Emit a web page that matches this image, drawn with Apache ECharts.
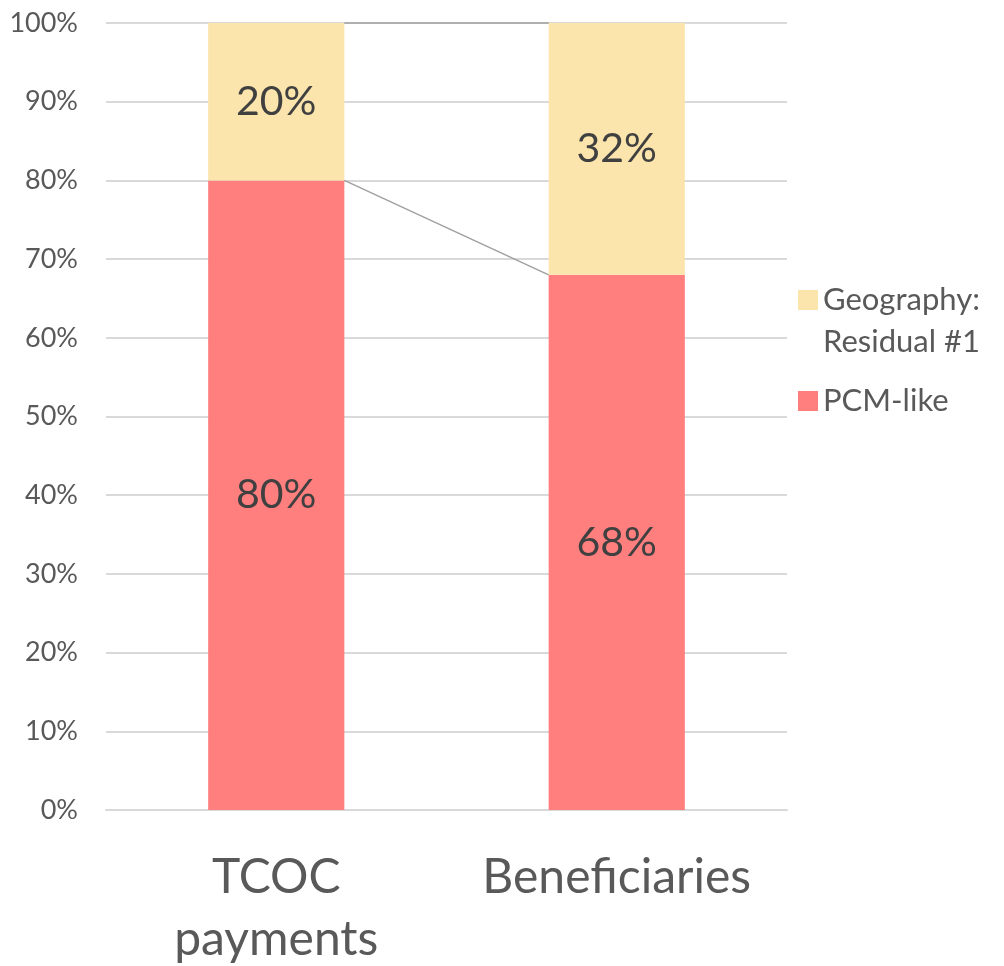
<!DOCTYPE html>
<html lang="en">
<head>
  <meta charset="UTF-8">
  <title>TCOC vs Beneficiaries</title>
  <script src="https://cdn.jsdelivr.net/npm/echarts@6/dist/echarts.min.js"></script>
  <style>
    html, body { margin: 0; padding: 0; background: #fff; }
    #main { width: 1004px; height: 966px; }
  </style>
</head>
<body>
  <div id="main"></div>
  <script>
    // data
    var categories = ['TCOC\npayments', 'Beneficiaries'];
    var pcmLike = [80, 68];
    var geography = [20, 32];
    var seriesNames = ['PCM-like', 'Geography:\nResidual #1'];

    // connector lines between the stacked bars (at each stack boundary)
    var connectors = [];
    for (var i = 0; i < categories.length - 1; i++) {
      connectors.push([i, pcmLike[i], pcmLike[i + 1]]);
      connectors.push([i, pcmLike[i] + geography[i], pcmLike[i + 1] + geography[i + 1]]);
    }

    var font = 'Lato, "Open Sans", sans-serif';
    var barRatio = 0.4;

    var myChart = echarts.init(document.getElementById('main'));

    var option = {
      backgroundColor: '#ffffff',
      textStyle: { fontFamily: font, color: '#595959' },
      grid: { left: 106, right: 217, top: 23, bottom: 156, outerBoundsMode: 'none' },
      legend: {
        data: [seriesNames[1], seriesNames[0]],
        // blank first line so the swatch lines up with the first text line
        formatter: function (name) {
          return name.indexOf('\n') >= 0 ? '\n' + name : name;
        },
        orient: 'vertical',
        left: 798,
        top: 237,
        padding: 0,
        itemWidth: 20,
        itemHeight: 20,
        itemGap: 17,
        icon: 'rect',
        textStyle: { fontFamily: font, fontSize: 31, color: '#595959', lineHeight: 42 }
      },
      xAxis: {
        type: 'category',
        data: categories,
        axisTick: { show: false },
        axisLine: { lineStyle: { color: '#d9d9d9', width: 2 } },
        axisLabel: {
          interval: 0,
          fontSize: 48,
          lineHeight: 62,
          margin: 37,
          color: '#595959',
          fontFamily: font
        }
      },
      yAxis: {
        type: 'value',
        min: 0,
        max: 100,
        interval: 10,
        axisLine: { show: false },
        axisTick: { show: false },
        axisLabel: {
          formatter: '{value}%',
          fontSize: 27,
          margin: 28,
          color: '#595959',
          fontFamily: font
        },
        splitLine: { lineStyle: { color: '#d9d9d9', width: 2 } }
      },
      series: [
        {
          name: seriesNames[0],
          type: 'bar',
          stack: 'total',
          data: pcmLike,
          barWidth: (barRatio * 100) + '%',
          itemStyle: { color: '#ff7f7f' },
          label: {
            show: true,
            formatter: '{c}%',
            fontSize: 41,
            color: '#404040',
            fontFamily: font
          }
        },
        {
          name: seriesNames[1],
          type: 'bar',
          stack: 'total',
          data: geography,
          barWidth: (barRatio * 100) + '%',
          itemStyle: { color: '#fbe5ac' },
          label: {
            show: true,
            formatter: '{c}%',
            fontSize: 41,
            color: '#404040',
            fontFamily: font
          }
        },
        {
          name: 'connectors',
          type: 'custom',
          data: connectors,
          z: 5,
          silent: true,
          renderItem: function (params, api) {
            var half = api.size([1, 0])[0] * barRatio / 2;
            var p0 = api.coord([api.value(0), api.value(1)]);
            var p1 = api.coord([api.value(0) + 1, api.value(2)]);
            return {
              type: 'line',
              shape: { x1: p0[0] + half, y1: p0[1], x2: p1[0] - half, y2: p1[1] },
              style: { stroke: '#a0a0a0', lineWidth: 1.5 }
            };
          }
        }
      ]
    };

    myChart.setOption(option);
  </script>
</body>
</html>
